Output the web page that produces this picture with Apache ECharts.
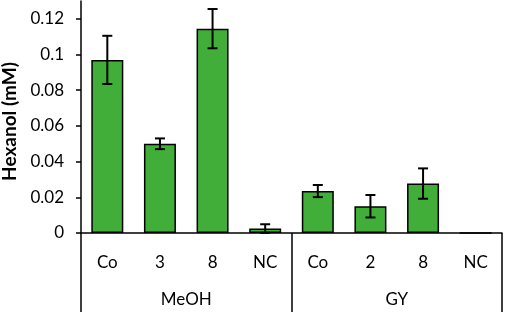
<!DOCTYPE html>
<html>
<head>
<meta charset="utf-8">
<script src="https://cdn.jsdelivr.net/npm/echarts@6/dist/echarts.min.js"></script>
<style>
  html, body { margin: 0; padding: 0; background: #fff; }
  #chart { width: 505px; height: 312px; }
</style>
</head>
<body>
<div id="chart"></div>
<script>
var categories = ["Co", "3", "8", "NC", "Co", "2", "8", "NC"];
var groups = ["MeOH", "GY"];
var hexanol = [0.097, 0.050, 0.1145, 0.0025, 0.0235, 0.015, 0.0277, 0];
var errors = [0.0135, 0.003, 0.011, 0.0024, 0.0034, 0.0063, 0.0085, 0];
var yTicks = [0, 0.02, 0.04, 0.06, 0.08, 0.1, 0.12];

var font = "Lato";

var chart = echarts.init(document.getElementById("chart"));

var option = {
  animation: false,
  grid: {
    left: 81,
    right: 3,
    top: 1,
    bottom: 79,
    outerBoundsMode: "none"
  },
  xAxis: [
    {
      type: "category",
      data: categories,
      axisLine: { lineStyle: { color: "#000", width: 1.5 } },
      axisTick: { show: false },
      axisLabel: {
        margin: 21,
        fontSize: 17,
        fontFamily: font,
        color: "#000"
      }
    },
    {
      type: "category",
      data: groups,
      position: "bottom",
      axisLine: { show: false },
      axisTick: {
        show: true,
        length: 80,
        interval: 0,
        lineStyle: { color: "#000", width: 1.5 }
      },
      axisLabel: {
        margin: 58,
        fontSize: 17,
        fontFamily: font,
        color: "#000"
      }
    }
  ],
  yAxis: {
    type: "value",
    min: 0,
    max: 0.13,
    interval: 0.02,
    name: "Hexanol (mM)",
    nameLocation: "middle",
    nameGap: 60,
    nameTextStyle: {
      fontSize: 19,
      fontWeight: "bold",
      fontFamily: font,
      color: "#000",
      padding: [0, 9, 0, 0]
    },
    axisLine: { show: true, lineStyle: { color: "#000", width: 1.5 } },
    axisTick: {
      show: true,
      length: 5,
      customValues: yTicks,
      lineStyle: { color: "#000", width: 1.5 }
    },
    axisLabel: {
      customValues: yTicks,
      margin: 17,
      fontSize: 17,
      fontFamily: font,
      color: "#000",
      formatter: function (v) {
        return String(Math.round(v * 100) / 100);
      }
    },
    splitLine: { show: false }
  },
  series: [
    {
      type: "bar",
      xAxisIndex: 0,
      data: hexanol,
      barWidth: 32,
      itemStyle: {
        color: "#41ae3a",
        borderColor: "#000",
        borderWidth: 1.5
      }
    },
    {
      type: "custom",
      xAxisIndex: 0,
      data: hexanol.map(function (v, i) { return [i, v - errors[i], v + errors[i]]; }),
      renderItem: function (params, api) {
        if (errors[params.dataIndex] === 0) return null;
        var lo = api.coord([api.value(0), api.value(1)]);
        var hi = api.coord([api.value(0), api.value(2)]);
        var half = 5;
        var style = { stroke: "#000", lineWidth: 2 };
        return {
          type: "group",
          children: [
            { type: "line", shape: { x1: hi[0], y1: hi[1], x2: lo[0], y2: lo[1] }, style: style },
            { type: "line", shape: { x1: hi[0] - half, y1: hi[1], x2: hi[0] + half, y2: hi[1] }, style: style },
            { type: "line", shape: { x1: lo[0] - half, y1: lo[1], x2: lo[0] + half, y2: lo[1] }, style: style }
          ]
        };
      },
      z: 10
    }
  ]
};

chart.setOption(option);
</script>
</body>
</html>
